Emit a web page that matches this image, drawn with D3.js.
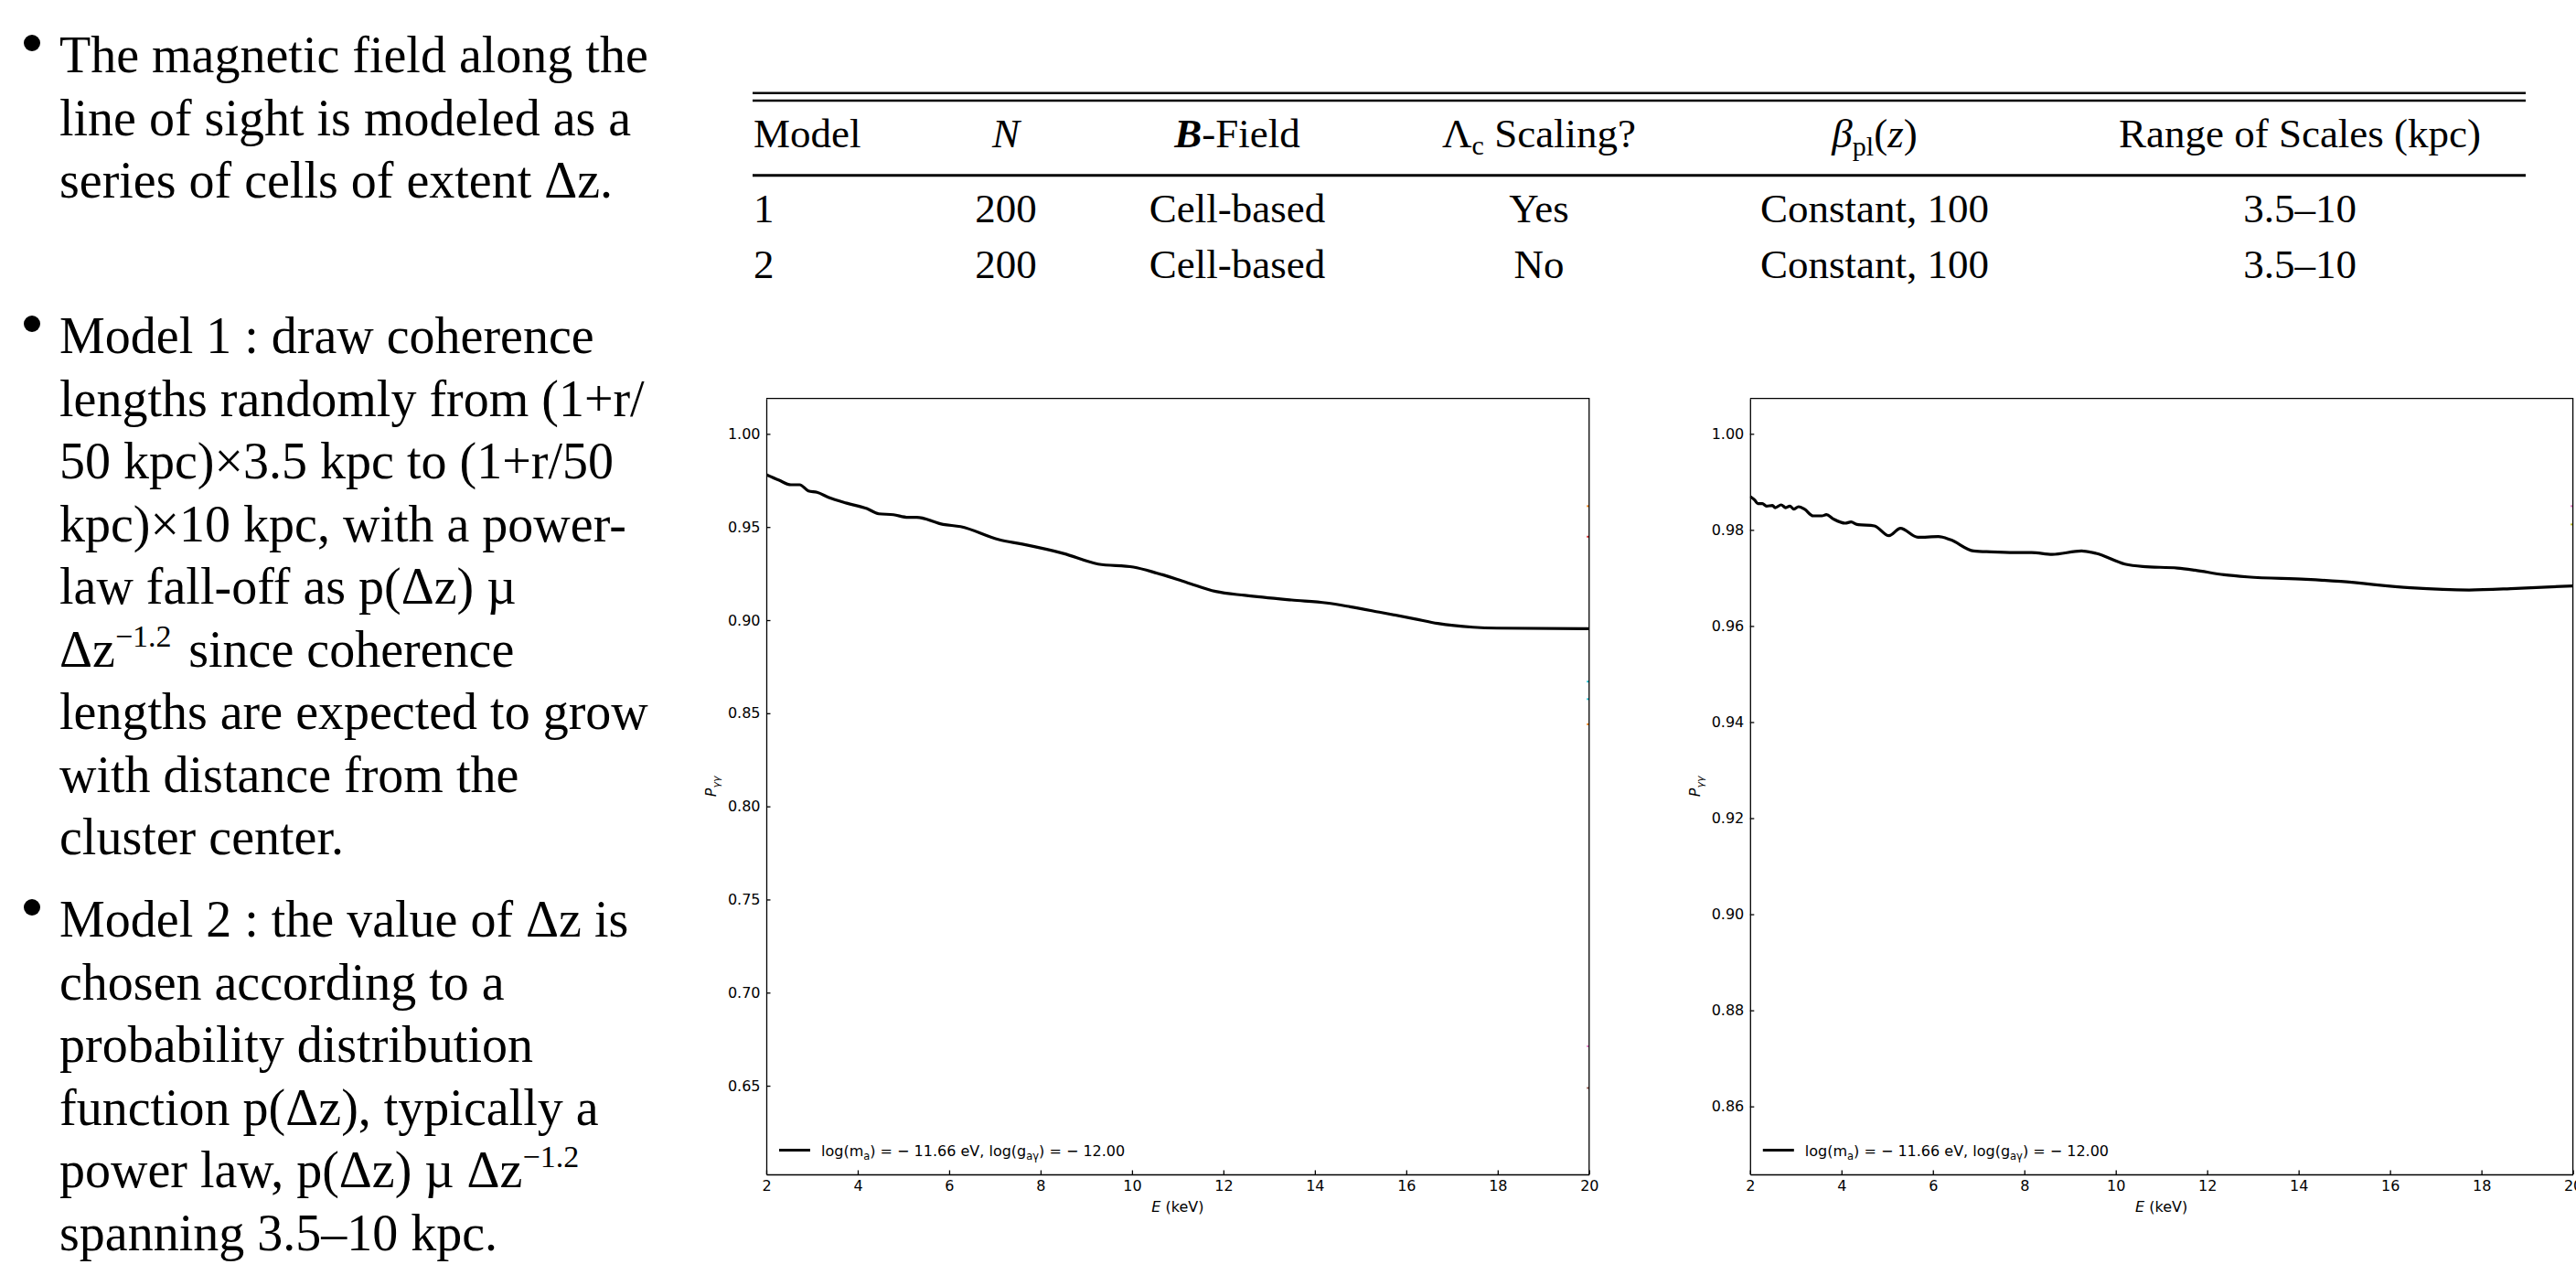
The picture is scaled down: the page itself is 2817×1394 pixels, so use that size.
<!DOCTYPE html>
<html>
<head>
<meta charset="utf-8">
<script src="https://cdn.jsdelivr.net/npm/d3@7"></script>
<style>
  body { margin: 0; background: #fff; }
  svg { display: block; }
</style>
</head>
<body>
<div id="slide"></div>
<script>
(function () {

  // ---- data ----
  var bullet1 = ["The magnetic field along the", "line of sight is modeled as a", "series of cells of extent \u0394z."];
  var bullet2 = ["Model 1 : draw coherence", "lengths randomly from (1+r/", "50 kpc)\u00d73.5 kpc to (1+r/50",
                 "kpc)\u00d710 kpc, with a power-", "law fall-off as p(\u0394z) \u00b5", "\u0394z^{\u22121.2} since coherence",
                 "lengths are expected to grow", "with distance from the", "cluster center."];
  var bullet3 = ["Model 2 : the value of \u0394z is", "chosen according to a", "probability distribution",
                 "function p(\u0394z), typically a", "power law, p(\u0394z) \u00b5 \u0394z^{\u22121.2}", "spanning 3.5\u201310 kpc."];

  var tableRows = [
    ["1", "200", "Cell-based", "Yes", "Constant, 100", "3.5\u201310"],
    ["2", "200", "Cell-based", "No", "Constant, 100", "3.5\u201310"]
  ];

  var xTicks = [2, 4, 6, 8, 10, 12, 14, 16, 18, 20];
  var yTicks1 = [0.65, 0.70, 0.75, 0.80, 0.85, 0.90, 0.95, 1.00];
  var yTicks2 = [0.86, 0.88, 0.90, 0.92, 0.94, 0.96, 0.98, 1.00];

  // model 1 P_gg vs E
  var energy1 = [2.0, 2.28, 2.54, 2.73, 2.92, 3.11, 3.37, 3.76, 4.20, 4.46, 4.78, 5.10, 5.29, 5.87, 6.25, 7.09, 7.60,
                 8.50, 9.26, 10.03, 10.55, 11.19, 11.83, 12.47, 13.49, 14.26, 14.77, 15.41, 16.18, 16.69, 17.46, 17.98, 20.0];
  var pgg1 = [0.9781, 0.9751, 0.9727, 0.9727, 0.9694, 0.9686, 0.9658, 0.9628, 0.9599, 0.9571, 0.9566, 0.9552, 0.9552,
              0.9514, 0.9502, 0.9432, 0.9408, 0.9358, 0.9301, 0.9285, 0.9252, 0.9203, 0.9154, 0.9133, 0.9108, 0.9092,
              0.9072, 0.9043, 0.9007, 0.8982, 0.8962, 0.8957, 0.8954];

  // model 2 P_gg vs E
  var energy2 = [2.0, 2.10, 2.17, 2.27, 2.36, 2.49, 2.55, 2.68, 2.78, 2.87, 2.96, 3.06, 3.19, 3.38, 3.57, 3.67, 3.82,
                 4.08, 4.21, 4.34, 4.72, 5.04, 5.29, 5.67, 6.12, 6.38, 6.89, 7.27, 7.78, 8.16, 8.61, 9.25, 9.57, 10.20,
                 10.59, 11.35, 11.73, 12.37, 12.88, 14.16, 14.92, 16.45, 17.73, 18.75, 20.0];
  var pgg2 = [0.98698, 0.98622, 0.98546, 0.98546, 0.98495, 0.98508, 0.98463, 0.98521, 0.98463, 0.98495, 0.98432,
              0.98483, 0.98432, 0.98292, 0.98292, 0.98317, 0.98229, 0.98140, 0.98165, 0.98114, 0.98083, 0.97879,
              0.98032, 0.97848, 0.97860, 0.97797, 0.97562, 0.97543, 0.97530, 0.97530, 0.97492, 0.97562, 0.97511,
              0.97289, 0.97238, 0.97206, 0.97162, 0.97067, 0.97022, 0.96971, 0.96927, 0.96794, 0.96749, 0.96781, 0.96835];

  // other series, only their ends show at E = 20
  var edgeSeries1 = ["C1", "C3", "C9", "C9", "C1", "C6", "C5"];
  var edgeValues1 = [0.9612, 0.9448, 0.8670, 0.8576, 0.8441, 0.6712, 0.6488];
  var edgeSeries2 = ["C6", "C8"];
  var edgeValues2 = [0.98495, 0.98114];

  var W = 2817, H = 1394;

  var svg = d3.select("#slide")
      .append("svg")
      .attr("width", W)
      .attr("height", H)
      .style("background", "#fff");

  // ---- bullet text ----
  var serif = "'Liberation Serif', 'Times New Roman', serif";
  var textSize = 56, lineH = 68.5;

  function writeLine(g, str, y) {
    var t = g.append("text")
        .attr("x", 65)
        .attr("y", y)
        .attr("font-family", serif)
        .attr("font-size", textSize)
        .style("fill", "#000");
    var parts = str.split(/\^\{([^}]*)\}/);
    parts.forEach(function (p, i) {
      if (!p) return;
      if (i % 2 == 1) {
        t.append("tspan").attr("font-size", 34).attr("dy", -22).text(p);
        t.append("tspan").attr("dy", 22).text("\u200a");
      } else {
        t.append("tspan").text(p);
      }
    });
  }

  var paras = [[bullet1, 79], [bullet2, 386], [bullet3, 1024]];
  var textG = svg.append("g");
  paras.forEach(function (p) {
    textG.append("circle")
        .attr("cx", 35)
        .attr("cy", p[1] - 32)
        .attr("r", 9)
        .style("fill", "#000");
    p[0].forEach(function (s, i) {
      writeLine(textG, s, p[1] + i * lineH);
    });
  });

  // ---- table ----
  var tab = svg.append("g").attr("font-family", serif).attr("font-size", 45).style("fill", "#000");
  var tLeft = 823, tRight = 2762;
  var colX = [824, 1100, 1353, 1683, 2050, 2515];

  [101.7, 110].forEach(function (y) {
    tab.append("line").attr("x1", tLeft).attr("x2", tRight).attr("y1", y).attr("y2", y)
        .attr("stroke", "#000").attr("stroke-width", 2.4);
  });
  tab.append("line").attr("x1", tLeft).attr("x2", tRight).attr("y1", 191.7).attr("y2", 191.7)
      .attr("stroke", "#000").attr("stroke-width", 3);

  var hy = 160.7;
  tab.append("text").attr("x", colX[0]).attr("y", hy).text("Model");
  tab.append("text").attr("x", colX[1]).attr("y", hy).attr("text-anchor", "middle")
      .style("font-style", "italic").text("N");
  var hb = tab.append("text").attr("x", colX[2]).attr("y", hy).attr("text-anchor", "middle");
  hb.append("tspan").style("font-style", "italic").style("font-weight", "bold").text("B");
  hb.append("tspan").text("-Field");
  var hl = tab.append("text").attr("x", colX[3]).attr("y", hy).attr("text-anchor", "middle");
  hl.append("tspan").text("\u039b");
  hl.append("tspan").attr("font-size", 30).attr("dy", 8).text("c");
  hl.append("tspan").attr("dy", -8).text(" Scaling?");
  var hbeta = tab.append("text").attr("x", colX[4]).attr("y", hy).attr("text-anchor", "middle");
  hbeta.append("tspan").style("font-style", "italic").text("\u03b2");
  hbeta.append("tspan").attr("font-size", 30).attr("dy", 9).text("pl");
  hbeta.append("tspan").attr("dy", -9).text("(");
  hbeta.append("tspan").style("font-style", "italic").text("z");
  hbeta.append("tspan").text(")");
  tab.append("text").attr("x", colX[5]).attr("y", hy).attr("text-anchor", "middle").text("Range of Scales (kpc)");

  var rowY = [242.7, 304];
  tableRows.forEach(function (r, i) {
    r.forEach(function (c, j) {
      tab.append("text")
          .attr("x", colX[j])
          .attr("y", rowY[i])
          .attr("text-anchor", j == 0 ? "start" : "middle")
          .text(c);
    });
  });

  // ---- charts ----
  var palette = d3.scaleOrdinal()
      .domain(["C0", "C1", "C2", "C3", "C4", "C5", "C6", "C7", "C8", "C9"])
      .range(d3.schemeCategory10);
  var sans = "'DejaVu Sans', sans-serif";

  function drawChart(opt) {
    var top = 435.7, bottom = 1284;
    var x = d3.scaleLinear().domain([2, 20]).range([opt.left, opt.left + 899.8]);
    var y = d3.scaleLinear().domain(opt.yDomain).range([bottom, top]);
    var g = svg.append("g");

    var clipId = "clip" + opt.id;
    g.append("clipPath").attr("id", clipId)
      .append("rect")
        .attr("x", x(2)).attr("y", top)
        .attr("width", x(20) - x(2)).attr("height", bottom - top);

    var line = d3.line()
        .x(function (d) { return x(d[0]); })
        .y(function (d) { return y(d[1]); })
        .curve(d3.curveMonotoneX);

    g.append("path")
        .datum(d3.zip(opt.energy, opt.pgg))
        .attr("d", line)
        .attr("clip-path", "url(#" + clipId + ")")
        .style("fill", "none")
        .style("stroke", "#000")
        .style("stroke-width", 3.2)
        .style("stroke-linejoin", "round");

    g.selectAll(".edge")
        .data(d3.zip(opt.edgeSeries, opt.edgeValues))
        .enter().append("line")
        .attr("x1", x(19.95)).attr("x2", x(20))
        .attr("y1", function (d) { return y(d[1]); })
        .attr("y2", function (d) { return y(d[1]); })
        .style("stroke", function (d) { return palette(d[0]); })
        .style("stroke-width", 2);

    var xAxis = d3.axisBottom(x).tickValues(xTicks).tickSize(-4.5).tickSizeOuter(0).tickPadding(7);
    var yAxis = d3.axisLeft(y).tickValues(opt.yTicks).tickSize(-4.5).tickSizeOuter(0).tickPadding(6.5)
        .tickFormat(d3.format(".2f"));

    g.append("g").attr("transform", "translate(0," + bottom + ")").call(xAxis);
    g.append("g").attr("transform", "translate(" + x(2) + ",0)").call(yAxis);
    g.selectAll(".tick text").attr("font-family", sans).attr("font-size", 16).style("fill", "#000");
    g.selectAll(".domain, .tick line").style("stroke", "#000").style("stroke-width", 1.3);

    // top and right spines
    g.append("path")
        .attr("d", "M" + x(2) + "," + top + "H" + x(20) + "V" + bottom)
        .style("fill", "none")
        .style("stroke", "#000")
        .style("stroke-width", 1.3);

    // axis labels
    var xl = g.append("text")
        .attr("x", (x(2) + x(20)) / 2)
        .attr("y", 1325)
        .attr("text-anchor", "middle")
        .attr("font-family", sans)
        .attr("font-size", 16);
    xl.append("tspan").style("font-style", "italic").text("E");
    xl.append("tspan").text(" (keV)");

    var yl = g.append("text")
        .attr("transform", "translate(" + (x(2) - 55) + "," + ((top + bottom) / 2) + ") rotate(-90)")
        .attr("text-anchor", "middle")
        .attr("font-family", sans)
        .attr("font-size", 16)
        .style("font-style", "italic");
    yl.append("tspan").text("P");
    yl.append("tspan").attr("font-size", 11).attr("dy", 4).text("\u03b3\u03b3");

    // legend
    var ly = bottom - 26.5;
    g.append("line")
        .attr("x1", x(2) + 14).attr("x2", x(2) + 48)
        .attr("y1", ly).attr("y2", ly)
        .style("stroke", "#000")
        .style("stroke-width", 3.2);
    var lt = g.append("text")
        .attr("x", x(2) + 60)
        .attr("y", ly + 6)
        .attr("font-family", sans)
        .attr("font-size", 16)
        .style("fill", "#000");
    lt.append("tspan").text("log(m");
    lt.append("tspan").attr("font-size", 11.5).attr("dy", 4).text("a");
    lt.append("tspan").attr("dy", -4).text(") = \u2212 11.66 eV, log(g");
    lt.append("tspan").attr("font-size", 11.5).attr("dy", 4).text("a\u03b3");
    lt.append("tspan").attr("dy", -4).text(") = \u2212 12.00");
  }

  drawChart({ id: 1, left: 838, yDomain: [0.6024, 1.019], yTicks: yTicks1,
              energy: energy1, pgg: pgg1, edgeSeries: edgeSeries1, edgeValues: edgeValues1 });
  drawChart({ id: 2, left: 1913.8, yDomain: [0.84585, 1.00735], yTicks: yTicks2,
              energy: energy2, pgg: pgg2, edgeSeries: edgeSeries2, edgeValues: edgeValues2 });

})();
</script>
</body>
</html>
